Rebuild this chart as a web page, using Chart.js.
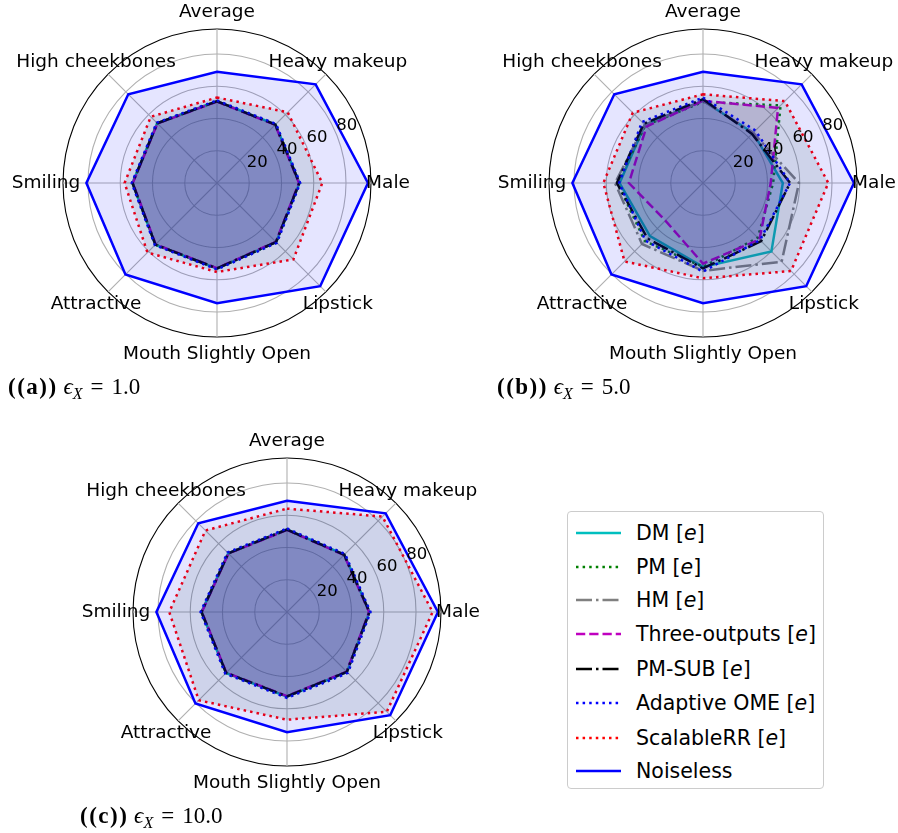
<!DOCTYPE html>
<html>
<head>
<meta charset="utf-8">
<script src="https://cdn.jsdelivr.net/npm/chart.js@4.4.1/dist/chart.umd.min.js"></script>
<style>
  html, body { margin: 0; padding: 0; background: #fff; }
  body { position: relative; width: 898px; height: 833px; overflow: hidden; font-family: "DejaVu Sans", sans-serif; }
  canvas { position: absolute; }
  .cap { position: absolute; font-family: "Liberation Serif", "DejaVu Serif", serif; font-size: 23px; color: #000; white-space: nowrap; line-height: 1; }
  .cap b { font-weight: bold; letter-spacing: 1.5px; }
  .cap i { font-style: italic; }
  .cap sub { font-size: 16px; font-style: italic; vertical-align: -5px; }
  .cap .eq { margin: 0 8px; }
  #legend { position: absolute; left: 567px; top: 511px; width: 257px; height: 278px; border: 1px solid #cccccc; border-radius: 4px; background: #fff; box-sizing: border-box; }
  .row { position: absolute; left: 0; height: 30px; width: 100%; }
  .row svg { position: absolute; left: 8px; top: 0; }
  .row span { position: absolute; left: 68px; top: 2px; font-size: 20.5px; line-height: 26px; white-space: nowrap; color: #000; }
</style>
</head>
<body>
<canvas id="chartA" width="449" height="400" style="left:0;top:0"></canvas>
<canvas id="chartB" width="449" height="400" style="left:449px;top:0"></canvas>
<canvas id="chartC" width="600" height="433" style="left:0;top:400px"></canvas>

<div class="cap" style="left:8px;top:375px"><b>((a))</b> <i>ϵ</i><sub>X</sub><span class="eq">=</span>1.0</div>
<div class="cap" style="left:497px;top:375px"><b>((b))</b> <i>ϵ</i><sub>X</sub><span class="eq">=</span>5.0</div>
<div class="cap" style="left:80px;top:804px"><b>((c))</b> <i>ϵ</i><sub>X</sub><span class="eq">=</span>10.0</div>

<div id="legend"></div>

<script>
// Attribute axes, listed clockwise from the top spoke.
const categories = ['Average', 'Heavy makeup', 'Male', 'Lipstick', 'Mouth Slightly Open', 'Attractive', 'Smiling', 'High cheekbones'];
const methodNames = ['DM', 'PM', 'HM', 'Three-outputs', 'PM-SUB', 'Adaptive OME', 'ScalableRR', 'Noiseless'];
const tickValues = [20, 40, 60, 80];
const radialMax = 95.5;

// Accuracy (%) per attribute, same order as categories.
const noiseless = [69.0, 86.5, 93.6, 90.5, 74.5, 80.3, 81.0, 77.8];

// epsilon_X = 1.0
const dmEps1    = [50.8, 51.3, 51.2, 51.9, 53.1, 54.1, 52.5, 52.5];
const pmEps1    = [50.6, 51.1, 51.0, 51.8, 52.9, 53.9, 52.3, 52.3];
const hmEps1    = [50.7, 51.2, 51.1, 51.7, 53.0, 54.0, 52.4, 52.4];
const threeEps1 = [50.5, 51.0, 50.8, 51.6, 52.8, 53.8, 52.2, 52.2];
const pmsubEps1 = [50.7, 51.2, 51.0, 51.8, 53.0, 54.0, 52.4, 52.4];
const aomeEps1  = [51.2, 51.8, 51.6, 52.5, 53.6, 54.5, 52.9, 52.9];
const srrEps1   = [53.0, 62.0, 65.3, 67.0, 55.2, 61.0, 57.3, 58.1];

// epsilon_X = 5.0
const dmEps5    = [51.0, 44.0, 49.5, 60.0, 52.0, 46.5, 51.7, 51.0];
const pmEps5    = [50.3, 68.0, 43.5, 48.0, 52.0, 51.0, 53.0, 50.5];
const hmEps5    = [51.0, 44.0, 59.5, 69.0, 54.5, 53.5, 54.6, 51.0];
const threeEps5 = [51.0, 65.8, 42.0, 49.5, 50.0, 33.0, 46.0, 49.5];
const pmsubEps5 = [52.0, 43.0, 54.0, 51.0, 53.0, 48.7, 53.4, 52.0];
const aomeEps5  = [53.0, 46.0, 54.0, 50.0, 55.0, 50.5, 52.0, 53.5];
const srrEps5   = [55.0, 71.8, 77.7, 77.2, 59.1, 68.8, 61.8, 61.6];

// epsilon_X = 10.0
const dmEps10    = [51.2, 50.3, 51.2, 52.6, 52.5, 53.5, 53.1, 51.6];
const pmEps10    = [51.0, 50.1, 51.0, 52.4, 52.3, 53.3, 52.9, 51.4];
const hmEps10    = [51.1, 50.2, 51.1, 52.5, 52.4, 53.4, 53.0, 51.5];
const threeEps10 = [50.9, 50.0, 50.9, 52.3, 52.2, 53.2, 52.8, 51.3];
const pmsubEps10 = [51.1, 50.2, 51.1, 52.5, 52.4, 53.4, 53.0, 51.5];
const aomeEps10  = [51.8, 50.9, 51.8, 53.4, 53.3, 54.1, 53.6, 52.2];
const srrEps10   = [64.1, 83.7, 90.3, 87.5, 66.8, 77.4, 73.0, 71.5];

// Line appearance for each method (matplotlib-like dash patterns).
const lineStyles = [
  { color: '#00bfbf', dash: [] },
  { color: '#008000', dash: [2.5, 4.1] },
  { color: '#808080', dash: [16, 4, 2.5, 4] },
  { color: '#bf00bf', dash: [9.25, 4] },
  { color: '#000000', dash: [16, 4, 2.5, 4] },
  { color: '#0000ff', dash: [2.5, 4.1] },
  { color: '#ff0000', dash: [2.5, 4.1] },
  { color: '#0000ff', dash: [] }
];
// Translucent area fills under each polygon.
const fillColors = [
  'rgba(0,191,191,0.1)', 'rgba(0,128,0,0.1)', 'rgba(128,128,128,0.1)', 'rgba(191,0,191,0.1)',
  'rgba(0,0,110,0.1)', 'rgba(0,0,255,0.1)', 'rgba(40,90,60,0.12)', 'rgba(0,0,255,0.1)'
];

function buildDatasets(series) {
  const total = series.length;
  return series.map((values, i) => ({
    label: methodNames[i],
    data: values,
    borderColor: lineStyles[i].color,
    borderDash: lineStyles[i].dash,
    borderWidth: 2.5,
    backgroundColor: fillColors[i],
    fill: true,
    pointRadius: 0,
    pointHoverRadius: 0,
    tension: 0,
    order: total - i
  }));
}

// Spoke labels and radial tick labels, placed like a polar axis.
const polarText = {
  id: 'polarText',
  afterDraw(chart) {
    const s = chart.scales.r;
    const ctx = chart.ctx;
    ctx.save();
    ctx.fillStyle = '#000';
    ctx.font = '18.5px "DejaVu Sans"';
    ctx.textAlign = 'center';
    ctx.textBaseline = 'middle';
    chart.data.labels.forEach((lab, i) => {
      const p = s.getPointPosition(i, s.drawingArea + 17);
      ctx.fillText(lab, p.x, p.y);
    });
    ctx.font = '16.5px "DejaVu Sans"';
    ctx.textAlign = 'left';
    ctx.textBaseline = 'bottom';
    const ang = Math.PI / 8;
    tickValues.forEach(v => {
      const r = s.getDistanceFromCenterForValue(v);
      ctx.fillText(String(v), s.xCenter + r * Math.cos(ang), s.yCenter - r * Math.sin(ang));
    });
    ctx.restore();
  }
};

function radar(id, series, pad) {
  return new Chart(document.getElementById(id), {
    type: 'radar',
    data: { labels: categories, datasets: buildDatasets(series) },
    options: {
      responsive: false,
      animation: false,
      layout: { padding: pad },
      plugins: { legend: { display: false }, tooltip: { enabled: false } },
      elements: { line: { borderJoinStyle: 'miter', borderCapStyle: 'butt' } },
      scales: {
        r: {
          min: 0,
          max: radialMax,
          afterBuildTicks: (axis) => {
            axis.ticks = [0, ...tickValues, radialMax].map(v => ({ value: v }));
          },
          ticks: { display: false },
          pointLabels: { display: false },
          grid: {
            circular: true,
            color: (c) => (c.tick && c.tick.value >= radialMax ? '#000000' : '#b0b0b0'),
            lineWidth: 1.1
          },
          angleLines: { display: true, color: '#b0b0b0', lineWidth: 1.1 }
        }
      }
    },
    plugins: [polarText]
  });
}

radar('chartA', [dmEps1, pmEps1, hmEps1, threeEps1, pmsubEps1, aomeEps1, srrEps1, noiseless],
      { left: 63, top: 29, right: 78, bottom: 63 });
radar('chartB', [dmEps5, pmEps5, hmEps5, threeEps5, pmsubEps5, aomeEps5, srrEps5, noiseless],
      { left: 100, top: 29, right: 41, bottom: 63 });
radar('chartC', [dmEps10, pmEps10, hmEps10, threeEps10, pmsubEps10, aomeEps10, srrEps10, noiseless],
      { left: 133, top: 58, right: 159, bottom: 67 });

// Legend rows with line samples in each method's style.
const legend = document.getElementById('legend');
const rowTops = [6, 40, 73, 107, 142, 176, 211, 244];
methodNames.forEach((name, i) => {
  const row = document.createElement('div');
  row.className = 'row';
  row.style.top = rowTops[i] + 'px';
  const st = lineStyles[i];
  const dash = st.dash.length ? `stroke-dasharray="${st.dash.join(' ')}"` : '';
  row.innerHTML =
    `<svg width="46" height="30"><line x1="0" y1="15" x2="45" y2="15" stroke="${st.color}" stroke-width="2.5" ${dash}/></svg>` +
    `<span>${name === 'Noiseless' ? name : name + ' [<i>e</i>]'}</span>`;
  legend.appendChild(row);
});
</script>
</body>
</html>
